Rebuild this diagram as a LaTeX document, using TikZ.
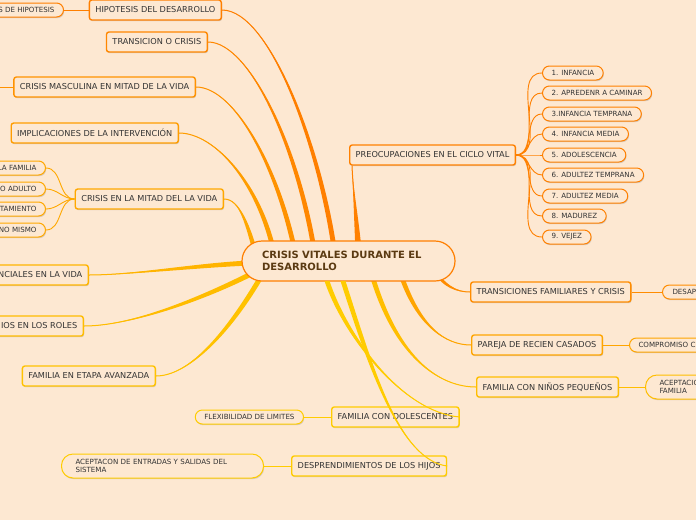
\documentclass[tikz,border=0pt]{standalone}
\usepackage{fontspec}
\setmainfont{DejaVu Sans}
\usetikzlibrary{calc,shadows,backgrounds}
\definecolor{MMback}{HTML}{FDE8D2}
\definecolor{MMtext}{HTML}{333333}
\definecolor{MMroot}{HTML}{5B3A12}
\definecolor{MMoA}{HTML}{FF7F00}
\definecolor{MMoB}{HTML}{FF8700}
\definecolor{MMoC}{HTML}{FF9200}
\definecolor{MMoD}{HTML}{FF9D00}
\definecolor{MMoE}{HTML}{FFA800}
\definecolor{MMoF}{HTML}{FFB400}
\definecolor{MMoG}{HTML}{FFBC00}
\definecolor{MMoH}{HTML}{FFC200}
\definecolor{MMoI}{HTML}{FFCC00}
\definecolor{MMrA}{HTML}{FF8000}
\definecolor{MMrB}{HTML}{FF8C00}
\definecolor{MMrC}{HTML}{FFA500}
\definecolor{MMrD}{HTML}{FFBE00}
\tikzset{
  mmshadow/.style={drop shadow={shadow xshift=0.7pt,shadow yshift=-1.2pt,opacity=0.3}},
  mmbox/.style={draw=#1, line width=1.4pt, rounded corners=2.5pt, fill=MMback, text=MMtext,
    minimum height=20pt, inner xsep=6pt, inner ysep=0pt, font=\fontsize{8.2}{9}\selectfont, mmshadow},
  mmpill/.style={draw=#1, line width=1pt, rounded corners=7pt, fill=MMback, text=MMtext,
    minimum height=14pt, inner xsep=9pt, inner ysep=0pt, font=\fontsize{7.1}{8.2}\selectfont, mmshadow},
  mmtall/.style={mmpill=#1, rounded corners=11.5pt, minimum height=24pt, align=left},
  mmlink/.style={draw=#1, line width=0.9pt},
  mmroot/.style={draw=MMoA, line width=1.2pt, rounded corners=20pt, fill=MMback, text=MMroot,
    minimum width=213pt, minimum height=40pt, text width=173pt, inner xsep=20pt, align=left,
    font=\fontsize{10}{12.5}\selectfont\bfseries},
}
% tapered branch out of the root node
\newcommand{\mmbranch}[6]{%
  \fill[#1] ($(root.center)+(#2)+(#3)$) .. controls +(#4) and +(#5) .. (#6)
    .. controls +(#5) and +(#4) .. ($(root.center)+(#2)-(#3)$) -- cycle;
  \draw[#1,line width=1pt] ($(root.center)+(#2)$) .. controls +(#4) and +(#5) .. (#6);}

\begin{document}
\begin{tikzpicture}[x=1pt,y=-1pt]
\useasboundingbox (0,0) rectangle (696,520);
\clip (0,0) rectangle (696,520);

\node[mmroot] (root) at (348.5,261) {CRISIS VITALES DURANTE EL\\DESARROLLO};

% left side
\node[mmbox=MMoA,anchor=east] (hipo) at (222,10) {HIPOTESIS DEL DESARROLLO};
\node[mmpill=MMoA,anchor=east] (hipoa) at (64,10) {S DE HIPOTESIS};
\node[mmbox=MMoB,anchor=east] (trans) at (208,42) {TRANSICION O CRISIS};
\node[mmbox=MMoC,anchor=east] (masc) at (196,87) {CRISIS MASCULINA EN MITAD DE LA VIDA};
\coordinate (masca) at (-6,87);
\node[mmbox=MMoD,anchor=east] (impl) at (179,133) {IMPLICACIONES DE LA INTERVENCIÓN};
\node[mmbox=MMoE,anchor=east] (mitad) at (224,199) {CRISIS EN LA MITAD DEL LA VIDA};
\node[mmpill=MMoE,anchor=east] (mitada) at (46,168) {LA FAMILIA};
\node[mmpill=MMoE,anchor=east] (mitadb) at (46,189) {O ADULTO};
\node[mmpill=MMoE,anchor=east] (mitadc) at (46,209) {TAMIENTO};
\node[mmpill=MMoE,anchor=east] (mitadd) at (46,230) {NO MISMO};
\node[mmbox=MMoF,anchor=east] (vida) at (89,275) {NCIALES EN LA VIDA};
\node[mmbox=MMoG,anchor=east] (roles) at (84,326) {IOS EN LOS ROLES};
\node[mmbox=MMoH,anchor=east] (etapa) at (156,376) {FAMILIA EN ETAPA AVANZADA};
\node[mmbox=MMoI,anchor=west] (adol) at (331,417) {FAMILIA CON DOLESCENTES};
\node[mmpill=MMoI,anchor=east] (adola) at (304,417) {FLEXIBILIDAD DE LIMITES};
\node[mmbox=MMoI,anchor=west] (hijos) at (291,466) {DESPRENDIMIENTOS DE LOS HIJOS};
\node[mmtall=MMoI,anchor=east,text width=174pt,inner xsep=14pt] (hijosa) at (264,466)
  {ACEPTACON DE ENTRADAS Y SALIDAS DEL\\SISTEMA};

% right side
\node[mmbox=MMrA,anchor=west] (preo) at (349,155) {PREOCUPACIONES EN EL CICLO VITAL};
\node[mmpill=MMrA,anchor=west] (p1) at (542,73) {1. INFANCIA};
\node[mmpill=MMrA,anchor=west] (p2) at (542,93) {2. APREDENR A CAMINAR};
\node[mmpill=MMrA,anchor=west] (p3) at (542,114) {3.INFANCIA TEMPRANA};
\node[mmpill=MMrA,anchor=west] (p4) at (542,134) {4. INFANCIA MEDIA};
\node[mmpill=MMrA,anchor=west] (p5) at (542,155) {5. ADOLESCENCIA};
\node[mmpill=MMrA,anchor=west] (p6) at (542,175) {6. ADULTEZ TEMPRANA};
\node[mmpill=MMrA,anchor=west] (p7) at (542,196) {7. ADULTEZ MEDIA};
\node[mmpill=MMrA,anchor=west] (p8) at (542,216) {8. MADUREZ};
\node[mmpill=MMrA,anchor=west] (p9) at (542,237) {9. VEJEZ};
\node[mmbox=MMrB,anchor=west] (trfam) at (470,292) {TRANSICIONES FAMILIARES Y CRISIS};
\node[mmpill=MMrB,anchor=west,minimum width=60pt,text width=40pt] (trfama) at (662,292) {DESAP};
\node[mmpill=MMrC,anchor=west,minimum width=90pt,text width=72pt] (parejaa) at (629,345) {COMPROMISO C};
\node[mmbox=MMrC,anchor=west] (pareja) at (471,345) {PAREJA DE RECIEN CASADOS};
\node[mmbox=MMrD,anchor=west] (ninos) at (476,387) {FAMILIA CON NIÑOS PEQUEÑOS};
\node[mmtall=MMrD,anchor=west,inner xsep=14pt,text width=60pt] (ninosa) at (645,387) {ACEPTACIO\\FAMILIA};

\begin{scope}[on background layer]
\fill[MMback] (0,0) rectangle (696,520);
\mmbranch{MMoA}{-12.5,1}{2.5,0}{-14,-112}{48,0}{hipo.east}
\mmbranch{MMoB}{-32.5,1}{2.5,0}{-16,-112}{42,0}{trans.east}
\mmbranch{MMoC}{-51.5,1}{2.5,0}{-17,-92}{39,0}{masc.east}
\mmbranch{MMoD}{-72.5,1}{2.5,0}{-14,-77}{36,0}{impl.east}
\mmbranch{MMoE}{-90.5,1}{2.5,0}{-10,-37}{16,0}{mitad.east}
\mmbranch{MMoF}{-98.5,2}{0,2.5}{-50,2}{41,0}{vida.east}
\mmbranch{MMoG}{-93.5,11}{1.2,2.2}{-55,28}{46,0}{roles.east}
\mmbranch{MMoH}{-86.5,14}{2,1.5}{-32,55}{34,0}{etapa.east}
\mmbranch{MMrA}{10.5,1}{3.2,0}{-1,-30}{1,25}{$(preo.south west)+(3,0)$}
\mmbranch{MMrB}{83.5,7}{0,2.5}{12,18}{-14,0}{trfam.west}
\mmbranch{MMrC}{51.5,11}{2.5,0}{18,55}{-25,0}{pareja.west}
\mmbranch{MMrD}{23.5,14}{2.5,0}{25,85}{-35,0}{ninos.west}
% second level
\draw[mmlink=MMoA] (hipo) -- (hipoa);
\draw[mmlink=MMoC] (masc) -- (masca);
\foreach \k in {mitada,mitadb,mitadc,mitadd}
  \draw[mmlink=MMoE] (mitad.west) to[out=180,in=0] (\k.east);
\draw[mmlink=MMoI] (adol) -- (adola);
\draw[mmlink=MMoI] (hijos) -- (hijosa);
\foreach \k in {p1,p2,p3,p4,p5,p6,p7,p8,p9}
  \draw[mmlink=MMrA] (preo.east) to[out=0,in=180] (\k.west);
\draw[mmlink=MMrB] (trfam) -- (trfama);
\draw[mmlink=MMrC] (pareja) -- (parejaa);
\draw[mmlink=MMrD] (ninos) -- (ninosa);
\end{scope}

% these two run over their own boxes
\mmbranch{MMoI}{-21.5,20}{2.5,0}{18,54}{-58,-5}{adol.east}
\mmbranch{MMoI}{-5.5,20}{2.5,0}{27,84}{-48,-6}{hijos.east}
\end{tikzpicture}
\end{document}
